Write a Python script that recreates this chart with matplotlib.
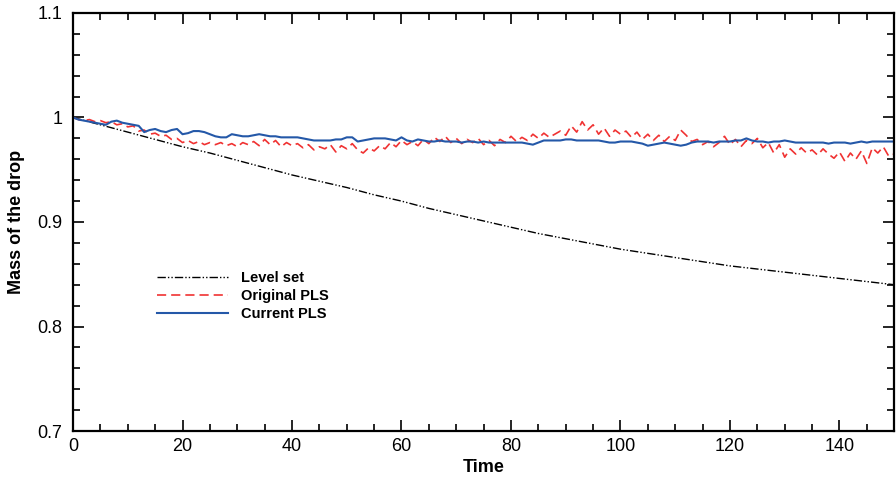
import numpy as np
import matplotlib
matplotlib.use('Agg')
import matplotlib.pyplot as plt
from matplotlib.ticker import MultipleLocator

plt.rcParams['font.family'] = ['Liberation Sans', 'DejaVu Sans']

# time axis for the particle level set curves (step 1)
t_pls = np.arange(0, 151)

original_pls = [
    1.000, 0.998, 0.997, 0.998, 0.996, 0.997, 0.995, 0.996, 0.993, 0.994,
    0.991, 0.992, 0.987, 0.988, 0.984, 0.985, 0.982, 0.983, 0.979, 0.980,
    0.976, 0.978, 0.975, 0.977, 0.974, 0.976, 0.974, 0.976, 0.973, 0.975,
    0.972, 0.976, 0.974, 0.977, 0.973, 0.979, 0.974, 0.978, 0.972, 0.976,
    0.973, 0.975, 0.971, 0.974, 0.969, 0.972, 0.970, 0.974, 0.967, 0.973,
    0.970, 0.975, 0.969, 0.966, 0.971, 0.968, 0.973, 0.970, 0.976, 0.972,
    0.978, 0.974, 0.977, 0.973, 0.979, 0.975, 0.981, 0.977, 0.982, 0.976,
    0.980, 0.975, 0.979, 0.976, 0.980, 0.974, 0.978, 0.973, 0.979, 0.976,
    0.982, 0.977, 0.981, 0.978, 0.984, 0.980, 0.985, 0.981, 0.984, 0.987,
    0.983, 0.992, 0.986, 0.996, 0.988, 0.993, 0.984, 0.990, 0.982, 0.988,
    0.984, 0.987, 0.981, 0.986, 0.979, 0.984, 0.978, 0.983, 0.977, 0.982,
    0.978, 0.988, 0.983, 0.977, 0.979, 0.974, 0.977, 0.972, 0.976, 0.982,
    0.974, 0.979, 0.972, 0.978, 0.975, 0.980, 0.971, 0.976, 0.966, 0.974,
    0.962, 0.970, 0.965, 0.971, 0.966, 0.969, 0.964, 0.970, 0.965, 0.961,
    0.967, 0.958, 0.966, 0.960, 0.968, 0.956, 0.971, 0.966, 0.972, 0.963,
    0.965,
]

current_pls = [
    1.000, 0.998, 0.997, 0.996, 0.995, 0.994, 0.993, 0.996, 0.997, 0.995,
    0.994, 0.993, 0.992, 0.986, 0.988, 0.989, 0.987, 0.986, 0.988, 0.989,
    0.984, 0.985, 0.987, 0.987, 0.986, 0.984, 0.982, 0.981, 0.981, 0.984,
    0.983, 0.982, 0.982, 0.983, 0.984, 0.983, 0.982, 0.982, 0.981, 0.981,
    0.981, 0.981, 0.980, 0.979, 0.978, 0.978, 0.978, 0.978, 0.979, 0.979,
    0.981, 0.981, 0.977, 0.978, 0.979, 0.980, 0.980, 0.980, 0.979, 0.978,
    0.981, 0.978, 0.977, 0.979, 0.978, 0.977, 0.977, 0.978, 0.977, 0.977,
    0.977, 0.976, 0.977, 0.977, 0.976, 0.977, 0.976, 0.976, 0.976, 0.976,
    0.976, 0.976, 0.976, 0.975, 0.974, 0.976, 0.978, 0.978, 0.978, 0.978,
    0.979, 0.979, 0.978, 0.978, 0.978, 0.978, 0.978, 0.977, 0.976, 0.976,
    0.977, 0.977, 0.977, 0.976, 0.975, 0.973, 0.974, 0.975, 0.976, 0.975,
    0.974, 0.973, 0.974, 0.976, 0.977, 0.977, 0.977, 0.976, 0.977, 0.977,
    0.977, 0.978, 0.978, 0.980, 0.978, 0.977, 0.977, 0.976, 0.977, 0.977,
    0.978, 0.977, 0.976, 0.976, 0.976, 0.976, 0.976, 0.976, 0.975, 0.976,
    0.976, 0.976, 0.975, 0.976, 0.977, 0.976, 0.977, 0.977, 0.977, 0.977,
    0.977,
]

# level set curve (step 5)
t_ls = np.arange(0, 151, 5)
level_set = [
    1.000, 0.993, 0.986, 0.979, 0.972, 0.966, 0.959, 0.952, 0.945, 0.939,
    0.933, 0.926, 0.920, 0.913, 0.907, 0.901, 0.895, 0.889, 0.884, 0.879,
    0.874, 0.870, 0.866, 0.862, 0.858, 0.855, 0.852, 0.849, 0.846, 0.843,
    0.840,
]

fig = plt.figure(figsize=(8.96, 4.8), dpi=100)
ax = fig.add_axes([0.0815, 0.102, 0.9165, 0.871])

ax.plot(t_ls, level_set, color='black', lw=1.0,
        linestyle=(0, (6, 1.5, 1, 1.5, 1, 1.5)), label='Level set')
ax.plot(t_pls, original_pls, color='#f03232', lw=1.2,
        linestyle=(0, (5.5, 3)), label='Original PLS')
ax.plot(t_pls, current_pls, color='#2458a8', lw=1.5, label='Current PLS')

ax.set_xlim(0, 150)
ax.set_ylim(0.7, 1.1)
ax.xaxis.set_major_locator(MultipleLocator(20))
ax.xaxis.set_minor_locator(MultipleLocator(5))
ax.yaxis.set_minor_locator(MultipleLocator(0.02))
ax.set_yticks([0.7, 0.8, 0.9, 1.0, 1.1])
ax.set_yticklabels(['0.7', '0.8', '0.9', '1', '1.1'])

ax.tick_params(which='both', direction='in', top=True, right=True,
               labelsize=13, width=1.2)
ax.tick_params(which='major', length=8)
ax.tick_params(which='minor', length=5)
ax.tick_params(axis='x', pad=5)
ax.tick_params(axis='y', pad=7.5)
for s in ax.spines.values():
    s.set_linewidth(1.6)

ax.set_xlabel('Time', fontsize=13, fontweight='bold', labelpad=3)
ax.set_ylabel('Mass of the drop', fontsize=13, fontweight='bold', labelpad=9)

ax.legend(loc='upper left', bbox_to_anchor=(0.086, 0.415), frameon=False,
          handlelength=4.9, labelspacing=0.3, handletextpad=0.9,
          prop={'size': 10.5, 'weight': 'bold'})

fig.savefig('out.png', dpi=100)
